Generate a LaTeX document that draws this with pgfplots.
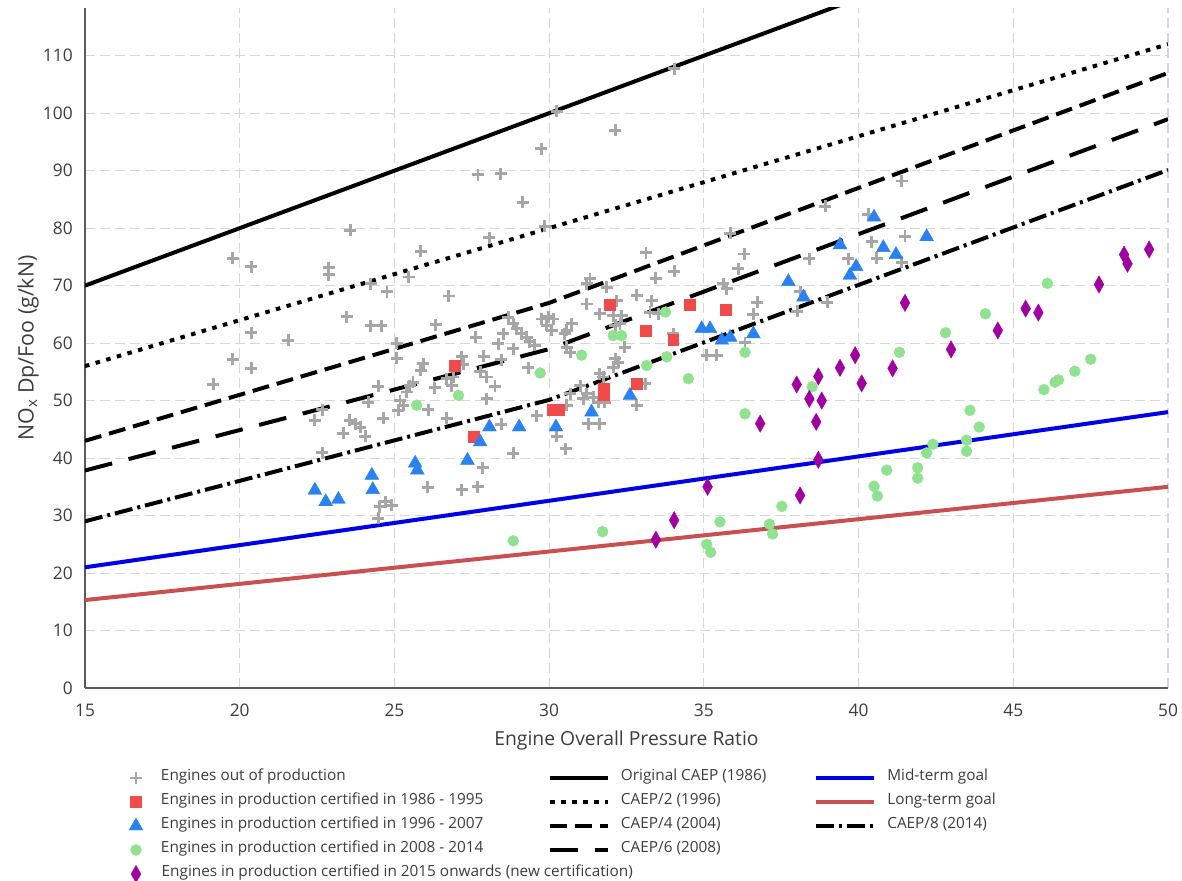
\documentclass[border=0pt]{standalone}
\usepackage{pgfplots}
\pgfplotsset{compat=1.18}
\usepackage{pgfplotstable}
\usepackage{fontspec}
\setmainfont{Open Sans}

\definecolor{outgray}{RGB}{166,166,166}
\definecolor{certred}{RGB}{240,75,75}
\definecolor{certblue}{RGB}{42,130,240}
\definecolor{certgreen}{RGB}{144,226,144}
\definecolor{certmag}{RGB}{160,0,160}
\definecolor{midblue}{RGB}{0,0,230}
\definecolor{longred}{RGB}{200,80,80}
\definecolor{gridgray}{RGB}{214,214,214}
\definecolor{axisgray}{RGB}{90,90,90}
\definecolor{txt}{RGB}{60,60,60}

% Engines out of production
\pgfplotstableread{
x y
27.70 89.3
23.57 79.6
19.77 74.8
20.37 73.3
22.87 73.1
22.87 71.9
25.85 76.0
25.46 71.5
24.23 70.3
24.76 68.9
26.75 68.2
23.46 64.6
24.23 63.0
24.57 63.0
26.34 63.2
20.37 61.8
21.57 60.5
25.07 60.0
27.62 61.0
19.77 57.2
25.07 57.4
25.93 56.4
27.17 57.6
20.37 55.6
19.15 52.8
25.85 55.3
27.23 56.3
24.48 52.5
25.50 52.6
25.60 53.2
25.40 51.5
26.31 52.2
26.85 52.6
26.90 54.1
25.18 50.0
25.29 49.2
25.13 48.3
24.16 49.7
22.67 48.4
22.43 46.6
24.64 46.9
26.10 48.4
23.56 46.6
23.73 46.0
23.89 45.4
23.35 44.3
24.05 43.8
26.69 46.9
22.67 40.9
24.70 32.4
24.91 31.8
24.53 31.5
24.48 29.5
26.07 34.9
27.17 34.5
27.69 35.0
34.05 107.7
30.24 100.3
32.13 97.0
29.74 93.8
28.44 89.5
29.15 84.5
29.85 80.3
28.06 78.3
35.85 79.1
33.13 75.7
33.44 71.3
34.05 72.5
31.32 71.2
31.21 70.3
31.86 69.7
35.63 70.3
35.74 69.5
36.11 72.9
32.83 68.3
33.31 67.4
33.26 65.4
33.53 65.1
31.21 66.8
32.18 67.4
31.64 65.1
32.07 64.8
32.34 64.8
32.29 63.4
32.13 63.1
34.01 61.6
32.45 59.3
29.97 64.6
30.13 64.2
29.76 64.2
29.92 63.1
30.08 62.2
30.73 63.4
30.57 62.2
30.51 61.6
28.68 64.5
28.84 63.4
28.95 62.5
29.11 61.6
29.27 61.0
29.38 60.2
29.54 59.6
28.52 61.6
28.36 59.9
28.84 59.0
30.57 59.3
30.68 58.4
27.88 57.7
28.46 57.1
29.33 55.7
27.77 55.0
27.98 54.1
28.25 52.5
32.13 57.3
32.24 56.7
32.07 55.8
31.64 54.7
31.75 54.1
35.09 57.9
35.41 57.9
27.98 50.3
26.69 53.8
31.00 52.6
31.21 51.2
31.43 50.6
31.10 50.3
30.68 51.2
33.10 52.9
32.83 49.2
31.59 49.7
31.80 49.7
30.57 49.2
29.60 47.4
28.46 45.9
30.24 43.8
31.27 46.0
31.64 46.0
30.54 41.6
28.84 40.8
27.85 38.3
41.39 88.2
38.92 83.8
40.32 82.4
41.50 78.6
40.42 77.6
40.58 74.8
41.39 74.1
39.67 74.7
38.41 74.7
36.30 75.5
38.11 68.9
38.99 67.1
38.02 65.5
36.73 67.1
36.60 65.0
36.33 60.1
}\outprod

% In production, certified 1986 - 1995
\pgfplotstableread{
x y
26.96 56.1
27.55 43.7
30.10 48.4
30.30 48.4
31.75 52.0
31.75 51.0
31.95 66.7
32.83 52.9
33.13 62.1
34.01 60.6
34.53 66.7
35.72 65.8
}\certA

% In production, certified 1996 - 2007
\pgfplotstableread{
x y
22.43 34.4
22.78 32.4
23.19 32.8
24.27 37.0
24.30 34.5
25.67 39.1
25.74 37.9
27.36 39.6
27.77 42.8
28.07 45.4
29.03 45.4
30.22 45.4
31.37 48.0
32.61 50.9
34.93 62.5
35.20 62.5
35.58 60.5
35.85 61.0
36.60 61.6
37.73 70.7
38.22 68.0
39.40 77.1
39.72 71.8
39.92 73.3
40.50 81.9
40.80 76.6
41.21 75.4
42.20 78.5
}\certB

% In production, certified 2008 - 2014
\pgfplotstableread{
x y
25.72 49.2
27.07 50.9
29.71 54.8
31.05 57.9
32.07 61.3
32.34 61.3
33.15 56.1
33.80 57.6
33.76 65.4
34.50 53.8
36.33 58.4
36.33 47.7
38.50 52.4
41.32 58.4
42.81 61.8
44.10 65.1
46.10 70.4
47.50 57.2
46.99 55.1
46.46 53.6
46.35 53.2
45.99 51.9
43.60 48.3
43.90 45.4
43.49 43.1
43.49 41.2
42.40 42.4
42.20 40.9
41.91 38.3
41.91 36.5
40.91 37.9
40.50 35.1
40.61 33.4
37.52 31.6
37.12 28.5
37.22 26.8
35.52 28.9
35.09 25.0
35.22 23.6
31.73 27.2
28.84 25.6
}\certC

% In production, certified 2015 onwards
\pgfplotstableread{
x y
33.45 25.8
34.04 29.2
35.12 35.0
36.82 46.0
38.00 52.8
38.11 33.5
38.41 50.3
38.63 46.3
38.70 54.2
38.70 39.7
38.81 50.0
39.40 55.7
39.89 57.9
40.10 53.0
41.10 55.6
41.50 67.0
42.99 58.9
44.50 62.2
45.40 66.0
45.81 65.3
47.77 70.2
48.58 75.4
48.69 73.8
49.39 76.3
}\certD

\pgfplotsset{
  outmark/.style={only marks, mark=+, mark size=4.5pt, color=outgray, line width=2.2pt},
  redmark/.style={only marks, mark=square*, mark size=4.1pt, color=certred, line width=0.3pt},
  bluemark/.style={only marks, mark=triangle*, mark size=6pt, color=certblue, line width=0.3pt},
  greenmark/.style={only marks, mark=*, mark size=4.1pt, color=certgreen, line width=0.3pt},
  magmark/.style={only marks, mark=diamond*, mark size=6.5pt, color=certmag, line width=0.3pt,
    mark options={xscale=0.75}},
  caepA/.style={black, line width=3pt, solid},
  caepB/.style={black, line width=3pt, dash pattern=on 3.4pt off 4.9pt},
  caepC/.style={black, line width=3pt, dash pattern=on 12.75pt off 6pt},
  caepD/.style={black, line width=3pt, dash pattern=on 21pt off 12.75pt},
  caepE/.style={black, line width=3pt, dash pattern=on 13.5pt off 3.75pt on 2.25pt off 3.75pt},
  midgoal/.style={midblue, line width=3pt},
  longgoal/.style={longred, line width=3pt},
  legmark/.style={legend image code/.code={%
    \path[draw=none,fill=none] (0pt,0pt) -- (26.25pt,0pt);%
    \draw[##1] plot coordinates {(7.5pt,0pt)};}},
  legline/.style={legend image code/.code={%
    \path[draw=none,fill=none] (0pt,0pt) -- (53.25pt,0pt);%
    \draw[##1] (0pt,0pt) -- (43.5pt,0pt);}},
}

\begin{document}
\begin{tikzpicture}
\path[use as bounding box] (-63.75pt,-144.75pt) rectangle (822.75pt,516pt);
\begin{axis}[
  at={(0pt,0pt)}, anchor=south west,
  width=812.25pt, height=510pt, scale only axis,
  xmin=15, xmax=50, ymin=0, ymax=118.3,
  xtick={15,20,...,50}, ytick={0,10,...,110},
  axis x line*=bottom, axis y line*=left,
  axis line style={-, axisgray, line width=1.1pt},
  major tick length=0pt,
  grid=major, grid style={gridgray, line width=0.8pt, dash pattern=on 7.5pt off 3.75pt},
  ticklabel style={font=\fontsize{13}{15}\selectfont, text=txt},
  /pgf/number format/assume math mode=true,
  xticklabel style={inner sep=0pt, anchor=north, yshift=-12pt},
  yticklabel style={inner sep=0pt, anchor=east, xshift=-9pt},
  xlabel={Engine Overall Pressure Ratio},
  ylabel={NO\textsubscript{x} Dp/Foo (g/kN)},
  every axis x label/.style={at={(axis description cs:0.5,-0.0765)}, anchor=center,
    font=\fontsize{14.5}{17}\selectfont, text=txt},
  every axis y label/.style={at={(axis description cs:-0.0526,0.5)}, rotate=90, anchor=center,
    font=\fontsize{16}{19}\selectfont, text=txt},
  legend columns=3, legend cell align=left,
  legend style={
    at={(axis description cs:0,0)}, anchor=north west,
    xshift=30.75pt, yshift=-58.5pt,
    draw=none, fill=none, inner sep=0pt, outer sep=0pt,
    column sep=0pt, row sep=0pt,
    nodes={inner sep=0pt, outer sep=0pt, text height=11pt, text depth=7pt,
      font=\fontsize{11.5}{13.5}\selectfont, text=txt},
  },
]
% regulatory limits and goals
\addplot[caepA, forget plot] coordinates {(15,70) (50,140)};
\addplot[caepB, forget plot] coordinates {(15,56) (50,112)};
\addplot[caepC, forget plot] coordinates {(15,43) (30,67) (50,107)};
\addplot[caepD, forget plot] coordinates {(15,37.84) (30,58.96) (50,98.96)};
\addplot[caepE, forget plot] coordinates {(15,29.0) (30,50.12) (50,90.12)};
\addplot[midgoal, forget plot] coordinates {(15,21) (50,48)};
\addplot[longgoal, forget plot] coordinates {(15,15.3) (50,35)};
% certified engines
\addplot[outmark, forget plot] table {\outprod};
\addplot[redmark, forget plot] table {\certA};
\addplot[bluemark, forget plot] table {\certB};
\addplot[greenmark, forget plot] table {\certC};
\addplot[magmark, forget plot] table {\certD};
% legend, filled row by row
\addlegendimage{outmark, legmark}
\addlegendentry{\makebox[290.25pt][l]{Engines out of production}}
\addlegendimage{caepA, legline}
\addlegendentry{\makebox[145pt][l]{Original CAEP (1986)}}
\addlegendimage{midgoal, legline}
\addlegendentry{\makebox[100pt][l]{Mid-term goal}}
\addlegendimage{redmark, legmark}
\addlegendentry{Engines in production certified in 1986 - 1995}
\addlegendimage{caepB, legline}
\addlegendentry{CAEP/2 (1996)}
\addlegendimage{longgoal, legline}
\addlegendentry{Long-term goal}
\addlegendimage{bluemark, legmark}
\addlegendentry{Engines in production certified in 1996 - 2007}
\addlegendimage{caepC, legline}
\addlegendentry{CAEP/4 (2004)}
\addlegendimage{caepE, legline}
\addlegendentry{CAEP/8 (2014)}
\addlegendimage{greenmark, legmark}
\addlegendentry{Engines in production certified in 2008 - 2014}
\addlegendimage{caepD, legline}
\addlegendentry{CAEP/6 (2008)}
\addlegendimage{empty legend}
\addlegendentry{}
\addlegendimage{magmark, legmark}
\addlegendentry{\makebox[0pt][l]{Engines in production certified in 2015 onwards (new certification)}}
\end{axis}
\end{tikzpicture}
\end{document}
